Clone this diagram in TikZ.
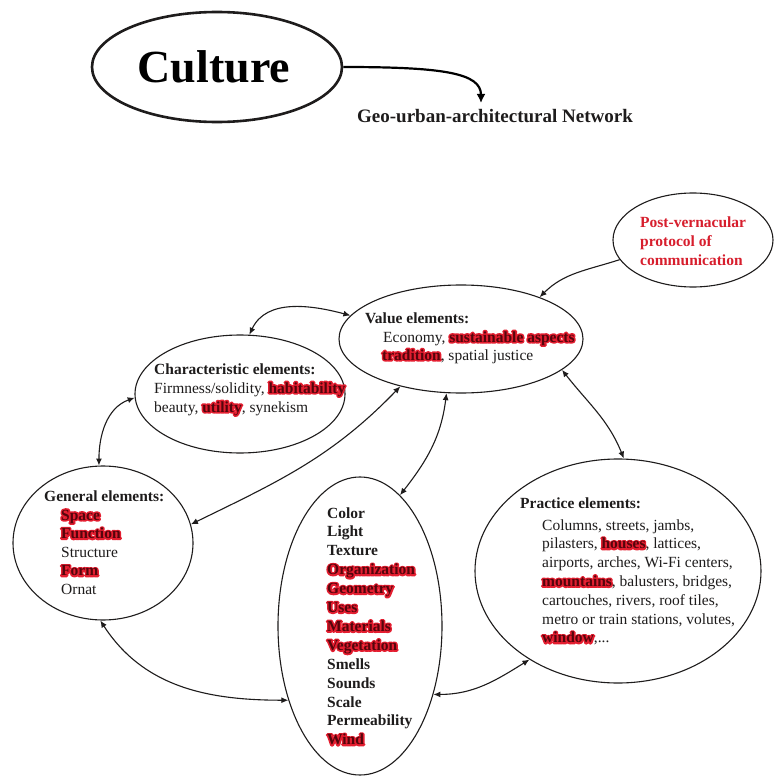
\documentclass[tikz,border=0pt]{standalone}
\usepackage{fontspec}
\setmainfont{Liberation Serif}
\newfontface\glowface[FakeBold=20]{Liberation Serif Bold}
\usetikzlibrary{shapes.geometric,arrows.meta}
\definecolor{hlred}{RGB}{228,30,48}
\definecolor{hltext}{RGB}{85,5,12}
\definecolor{postred}{RGB}{215,30,45}
\definecolor{ink}{RGB}{30,28,28}
\newcommand{\hlw}[1]{\makebox[0pt][l]{\textcolor{hlred}{\glowface #1}}\textcolor{hltext}{\bfseries #1}}
\begin{document}
\begin{tikzpicture}[x=1pt,y=1pt, line join=round,
  ell/.style={ellipse, draw=ink, line width=1.1pt, inner sep=0pt},
  txt/.style={anchor=base west, inner sep=0pt, text=ink, font=\fontsize{15.5}{18}\selectfont},
  btxt/.style={txt, font=\fontsize{15.5}{18}\selectfont\bfseries},
  link/.style={line width=1.1pt, draw=ink, {Latex[length=7pt,width=6pt]}-{Latex[length=7pt,width=6pt]}},
  onelink/.style={line width=1.1pt, draw=ink, -{Latex[length=7pt,width=6pt]}}]
\useasboundingbox[fill=white] (0,0) rectangle (780,-776);

% ellipses
\node[ell, line width=2.6pt, minimum width=250pt, minimum height=110pt] (cult) at (217,-67) {};
\node[ell, minimum width=160pt, minimum height=94pt] (post) at (693,-240) {};
\node[ell, minimum width=244pt, minimum height=108pt] (val) at (461,-339) {};
\node[ell, minimum width=210pt, minimum height=118pt] (char) at (240,-394) {};
\node[ell, minimum width=180pt, minimum height=154pt] (gen) at (103,-543) {};
\node[ell, minimum width=164pt, minimum height=298pt] (wind) at (360,-626) {};
\node[ell, minimum width=286pt, minimum height=224pt] (prac) at (618,-571) {};

% title
\node[anchor=base, inner sep=0pt, text=black, font=\fontsize{46}{50}\selectfont\bfseries] (culttxt) at (214,-83) {Culture};
\node[anchor=base west, inner sep=0pt, text=ink, font=\fontsize{19}{22}\selectfont\bfseries] (net) at (357,-123) {Geo-urban-architectural Network};
\coordinate (nettip) at (481,-103);
\draw[line width=2.2pt, draw=black, -{Latex[length=9pt,width=9pt]}] (cult.east) .. controls +(100,0) and +(0,30) .. (nettip);

% post-vernacular
\node[txt, font=\fontsize{15.5}{18}\selectfont\bfseries, text=postred] (p1) at (640,-227) {Post-vernacular};
\node[txt, font=\fontsize{15.5}{18}\selectfont\bfseries, text=postred] (p2) at (640,-246) {protocol of};
\node[txt, font=\fontsize{15.5}{18}\selectfont\bfseries, text=postred] (p3) at (640,-265) {communication};

% value
\node[btxt] (v1) at (365,-323) {Value elements:};
\node[txt] (v2) at (383,-342) {Economy, \hlw{sustainable aspects}};
\node[txt] (v3) at (382,-360) {\hlw{tradition}, spatial justice};

% characteristic
\node[btxt] (c1) at (154,-374) {Characteristic elements:};
\node[txt] (c2) at (154,-393) {Firmness/solidity, \hlw{habitability}};
\node[txt] (c3) at (154,-412) {beauty, \hlw{utility}, synekism};

% general
\node[btxt] (g1) at (44,-501) {General elements:};
\node[txt] (g2) at (61,-520) {\hlw{Space}};
\node[txt] (g3) at (61,-538.6) {\hlw{Function}};
\node[txt] (g4) at (61,-557.2) {Structure};
\node[txt] (g5) at (61,-575.8) {\hlw{Form}};
\node[txt] (g6) at (61,-594.4) {Ornat};

% central list
\node[btxt] (w1) at (327,-518) {Color};
\node[btxt] (w2) at (327,-536.9) {Light};
\node[btxt] (w3) at (327,-555.8) {Texture};
\node[btxt] (w4) at (327,-574.7) {\hlw{Organization}};
\node[btxt] (w5) at (327,-593.6) {\hlw{Geometry}};
\node[btxt] (w6) at (327,-612.5) {\hlw{Uses}};
\node[btxt] (w7) at (327,-631.4) {\hlw{Materials}};
\node[btxt] (w8) at (327,-650.3) {\hlw{Vegetation}};
\node[btxt] (w9) at (327,-669.2) {Smells};
\node[btxt] (w10) at (327,-688.1) {Sounds};
\node[btxt] (w11) at (327,-707) {Scale};
\node[btxt] (w12) at (327,-725.9) {Permeability};
\node[btxt] (w13) at (327,-744.8) {\hlw{Wind}};

% practice
\node[btxt] (r0) at (520,-508) {Practice elements:};
\node[txt] (r1) at (542,-530) {Columns, streets, jambs,};
\node[txt] (r2) at (542,-548.8) {pilasters, \hlw{houses}, lattices,};
\node[txt] (r3) at (542,-567.6) {airports, arches, Wi-Fi centers,};
\node[txt] (r4) at (542,-586.4) {\hlw{mountains}, balusters, bridges,};
\node[txt] (r5) at (542,-605.2) {cartouches, rivers, roof tiles,};
\node[txt] (r6) at (542,-624) {metro or train stations, volutes,};
\node[txt] (r7) at (542,-642.8) {\hlw{window},...};

% connectors
\draw[link] (char.81) to[out=65,in=165] (val.168);
\draw[link] (char.182) to[out=200,in=90] (gen.93);
\draw[link] (val.218) to[out=226,in=26] (gen.12);
\draw[link] (val.255) to[out=263,in=52] (wind.73);
\draw[link] (val.343) to[out=-52,in=112] (prac.87);
\draw[onelink] (post.195) to[out=198,in=45] (val.28);
\draw[link] (gen.268) to[out=-57,in=180] (wind.226);
\draw[link] (wind.317) to[out=0,in=212] (prac.225);
\end{tikzpicture}
\end{document}
